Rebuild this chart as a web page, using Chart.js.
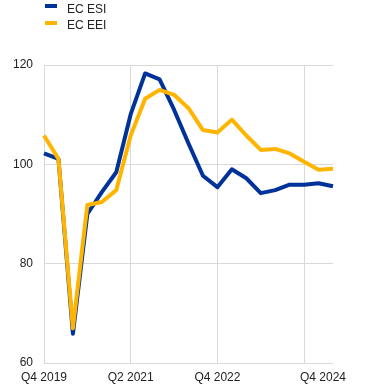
<!DOCTYPE html>
<html>
<head>
<meta charset="utf-8">
<script src="https://cdn.jsdelivr.net/npm/chart.js@4"></script>
<style>
    body { margin: 0; background: #fff; font-family: "Liberation Sans", Arial, sans-serif; }
    #wrap { position: relative; width: 370px; height: 388px; }
    .leg { position: absolute; left: 45px; font-size: 12px; line-height: 14px; color: #222; }
    .leg span.sw { position: absolute; left: 0; width: 12px; height: 4px; }
    .leg span.tx { position: absolute; left: 22px; top: 0; white-space: nowrap; }
</style>
</head>
<body>
<div id="wrap">
    <canvas id="chart" width="370" height="388"></canvas>
    <div class="leg" style="top:2px"><span class="sw" style="top:2px;background:#003299"></span><span class="tx">EC ESI</span></div>
    <div class="leg" style="top:18px"><span class="sw" style="top:3px;background:#ffb400"></span><span class="tx">EC EEI</span></div>
</div>
<script>
const quarters = ['Q4 2019', 'Q1 2020', 'Q2 2020', 'Q3 2020', 'Q4 2020', 'Q1 2021', 'Q2 2021',
    'Q3 2021', 'Q4 2021', 'Q1 2022', 'Q2 2022', 'Q3 2022', 'Q4 2022', 'Q1 2023', 'Q2 2023',
    'Q3 2023', 'Q4 2023', 'Q1 2024', 'Q2 2024', 'Q3 2024', 'Q4 2024'];
const esi = [102.2, 101.1, 65.9, 90.0, 94.4, 98.4, 110.1, 118.3, 117.1, 111.0, 104.2,
    97.7, 95.4, 99.0, 97.2, 94.2, 94.8, 95.9, 95.9, 96.2, 95.6];
const eei = [105.8, 101.1, 67.0, 91.8, 92.4, 94.8, 105.8, 113.2, 115.0, 114.0, 111.3,
    106.9, 106.4, 109.0, 105.8, 102.9, 103.1, 102.2, 100.5, 98.9, 99.1];
const labelIdx = [0, 6, 12, 20];
const gridIdx = [0, 6, 12, 18];

const ctx = document.getElementById('chart').getContext('2d');
new Chart(ctx, {
    type: 'line',
    data: {
        labels: quarters,
        datasets: [
            { label: 'EC ESI', data: esi, borderColor: '#003299', borderWidth: 4, borderJoinStyle: 'round', pointRadius: 0, tension: 0, order: 2 },
            { label: 'EC EEI', data: eei, borderColor: '#ffb400', borderWidth: 4, borderJoinStyle: 'round', pointRadius: 0, tension: 0, order: 1 }
        ]
    },
    options: {
        responsive: false,
        animation: false,
        layout: { padding: { left: 0, right: 37, top: 65, bottom: 0 } },
        plugins: { legend: { display: false }, tooltip: { enabled: false } },
        scales: {
            x: {
                offset: false,
                border: { display: false },
                afterFit: s => { s.height = 25; s.paddingLeft = 0; s.paddingRight = 0; },
                grid: {
                    drawTicks: false,
                    color: c => gridIdx.includes(c.index) ? '#d9d9d9' : 'rgba(0,0,0,0)'
                },
                ticks: {
                    autoSkip: false,
                    maxRotation: 0,
                    padding: 7,
                    color: '#222',
                    font: { family: '"Liberation Sans", Arial', size: 12 },
                    callback: function(v, i) {
                        if (!labelIdx.includes(i)) return '';
                        return i === 20 ? quarters[i] + '\u00a0\u00a0\u00a0\u00a0\u00a0\u00a0' : quarters[i];
                    }
                }
            },
            y: {
                min: 60,
                max: 120,
                border: { display: false },
                afterFit: s => { s.width = 44; s.paddingTop = 0; s.paddingBottom = 0; },
                grid: { drawTicks: false, color: '#d9d9d9' },
                ticks: {
                    stepSize: 20,
                    padding: 11,
                    color: '#222',
                    font: { family: '"Liberation Sans", Arial', size: 12 }
                }
            }
        }
    }
});
</script>
</body>
</html>
